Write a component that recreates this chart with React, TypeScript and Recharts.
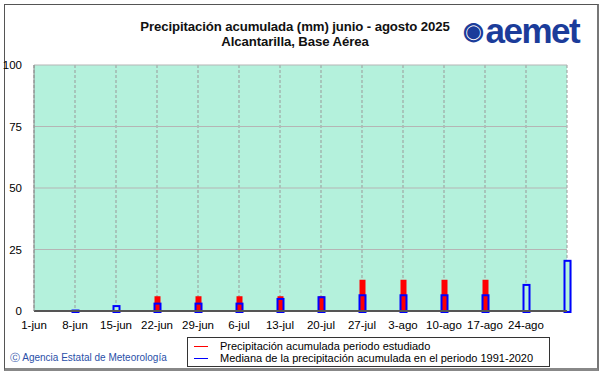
import React from "react";
import { Bar, BarChart, CartesianGrid, XAxis, YAxis } from "recharts";

const categories = ["1-jun", "8-jun", "15-jun", "22-jun", "29-jun", "6-jul", "13-jul", "20-jul", "27-jul", "3-ago", "10-ago", "17-ago", "24-ago", "31-ago"];
const observed = [0, 0, 0, 6.0, 6.0, 6.0, 6.0, 6.0, 12.7, 12.7, 12.7, 12.7, null, null];
const median = [0, 0.2, 2.0, 3.0, 3.0, 3.0, 4.9, 5.6, 6.4, 6.4, 6.4, 6.4, 10.6, 20.4];
const yTicks = [0, 25, 50, 75, 100];
const hiddenTickLabels = ["31-ago"];

const data = categories.map((day, i) => ({ day, observed: observed[i], median: median[i], medianBg: median[i] }));

const FONT = "'Liberation Sans', Arial, sans-serif";
const PLOT_BG = "#b4f1dc";

function RedBar(props: any) {
  const { x, y, width, height } = props;
  if (!height || height <= 0) return null;
  return <rect x={x + 1} y={y} width={width - 2} height={height} fill="#ff0000" />;
}

function MedianBg(props: any) {
  const { x, y, width, height } = props;
  if (height == null || height <= 0) return null;
  return <rect x={x} y={y} width={width} height={height} fill={PLOT_BG} />;
}

function MedianOutline(props: any) {
  const { x, y, width, height, value } = props;
  if (!value) return null;
  const h = Math.max(height, 0);
  return <rect x={x + 1} y={y} width={width - 2} height={h + 1} fill="none" stroke="#0000ff" strokeWidth={2} />;
}

export default function App() {
  return (
    <div style={{ position: "absolute", left: 0, top: 0, width: 601, height: 374, background: "#fff", fontFamily: FONT }}>
      <div style={{ position: "absolute", left: 4, top: 4, width: 592, height: 363, border: "1px solid #555", borderBottom: "3px solid #888", borderRight: "2px solid #777" }} />
      <div style={{ position: "absolute", left: 95, width: 400, top: 19, textAlign: "center", fontWeight: "bold", fontSize: 13.2, lineHeight: "15px", color: "#111", letterSpacing: -0.1 }}>
        Precipitación acumulada (mm) junio - agosto 2025
        <br />
        Alcantarilla, Base Aérea
      </div>
      <div style={{ position: "absolute", left: 463, top: 11, fontSize: 35, fontWeight: "bold", color: "#1b3c9a", letterSpacing: -1.5, fontFamily: FONT }}>
        <span style={{ fontSize: 24, marginRight: 3, verticalAlign: 4 }}>◉</span>aemet
      </div>
      <BarChart
        width={601}
        height={374}
        data={data}
        margin={{ top: 65, right: 34, left: 0, bottom: 0 }}
        barSize={8}
        barGap={-8}
        style={{ position: "absolute", left: 0, top: 0 }}
      >
        <CartesianGrid fill={PLOT_BG} stroke="#999" horizontal={false} strokeDasharray="3 2" />
        <CartesianGrid stroke="#b5b5b5" vertical={false} />
        <XAxis
          dataKey="day"
          scale="point"
          height={63}
          interval={0}
          tickLine={false}
          axisLine={{ stroke: "#555", strokeWidth: 2 }}
          tick={{ fill: "#000", fontSize: 11.5, fontFamily: FONT }}
          tickMargin={4}
          tickFormatter={(v: string) => (hiddenTickLabels.includes(v) ? "" : v)}
        />
        <XAxis xAxisId="top" dataKey="day" scale="point" orientation="top" height={0} tick={false} tickLine={false} axisLine={{ stroke: "#777" }} />
        <YAxis
          domain={[0, 100]}
          ticks={yTicks}
          width={34}
          tickLine={false}
          axisLine={{ stroke: "#888" }}
          tick={{ fill: "#000", fontSize: 11.5, fontFamily: FONT }}
          tickMargin={6}
        />
        <YAxis yAxisId="right" orientation="right" width={0} domain={[0, 100]} tick={false} tickLine={false} axisLine={{ stroke: "#333" }} />
        <Bar dataKey="medianBg" shape={MedianBg} isAnimationActive={false} />
        <Bar dataKey="observed" shape={RedBar} isAnimationActive={false} />
        <Bar dataKey="median" shape={MedianOutline} isAnimationActive={false} />
      </BarChart>
      <div style={{ position: "absolute", left: 187, top: 337, width: 361, height: 28, border: "1px solid #333", background: "#fff", fontSize: 11, lineHeight: "12px", color: "#000" }}>
        <div style={{ position: "absolute", left: 6, top: 2, whiteSpace: "nowrap" }}>
          <span style={{ display: "inline-block", width: 14, height: 1.5, background: "#ff0000", verticalAlign: 3, marginRight: 12 }} />
          Precipitación acumulada periodo estudiado
        </div>
        <div style={{ position: "absolute", left: 6, top: 14, whiteSpace: "nowrap" }}>
          <span style={{ display: "inline-block", width: 14, height: 1.5, background: "#0000ff", verticalAlign: 3, marginRight: 12 }} />
          Mediana de la precipitación acumulada en el periodo 1991-2020
        </div>
      </div>
      <div style={{ position: "absolute", left: 10, top: 351, fontSize: 10, color: "#2a4fa8", whiteSpace: "nowrap" }}>
        Ⓒ Agencia Estatal de Meteorología
      </div>
    </div>
  );
}
